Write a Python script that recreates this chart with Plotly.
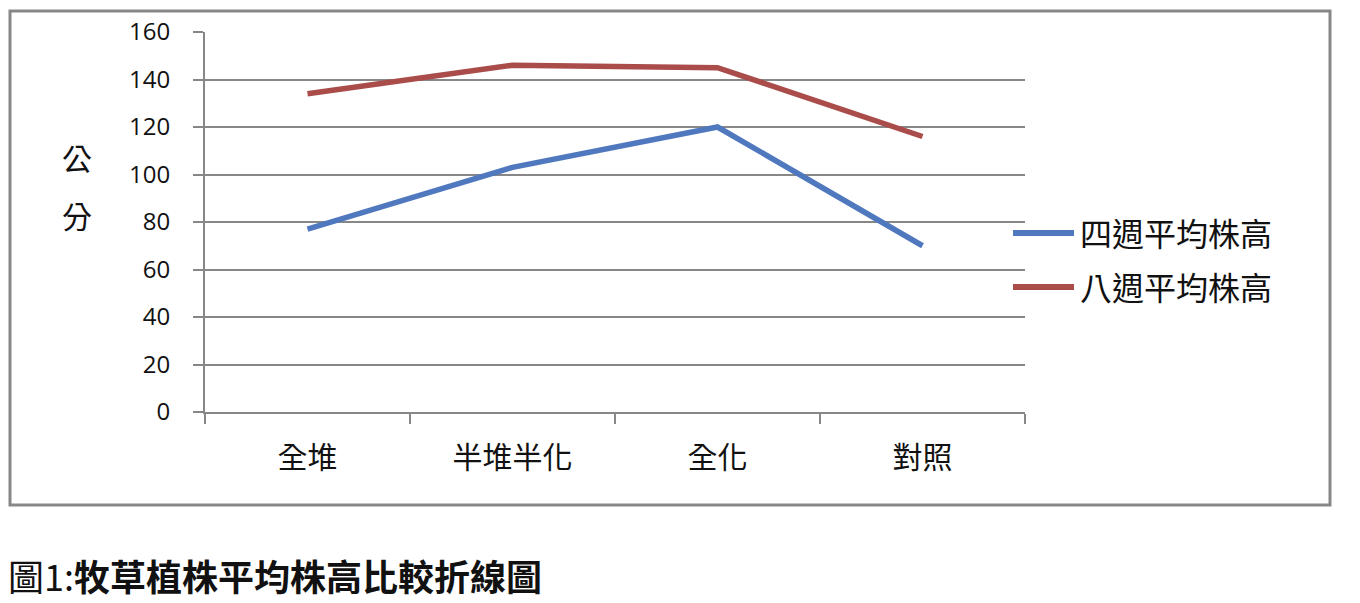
import plotly.graph_objects as go

categories = ["全堆", "半堆半化", "全化", "對照"]
week4 = [77, 103, 120, 70]
week8 = [134, 146, 145, 116]
series_names = ["四週平均株高", "八週平均株高"]
series_colors = ["#4F78BE", "#A94C4A"]
y_ticks = [0, 20, 40, 60, 80, 100, 120, 140, 160]

CJK = "Noto Sans CJK TC"
GRAY = "#878787"

fig = go.Figure()
for vals, name, col in zip([week4, week8], series_names, series_colors):
    fig.add_trace(go.Scatter(x=categories, y=vals, mode="lines", name=name,
                             line=dict(color=col, width=5.5), showlegend=False))

L, R, T, B = 205, 335, 32, 191
W, H = 1360, 603
pw, ph = W - L - R, H - T - B

def px(xp):
    return (xp - L) / pw

def py(yp):
    return (H - B - yp) / ph

fig.update_layout(
    width=W, height=H,
    margin=dict(l=L, r=R, t=T, b=B),
    paper_bgcolor="white", plot_bgcolor="white",
    showlegend=False,
    xaxis=dict(type="category", range=[-0.5, 3.5], showgrid=False,
               showline=True, linecolor=GRAY, linewidth=2,
               ticks="outside", tickson="boundaries", ticklen=10,
               tickcolor=GRAY, tickwidth=2, ticklabelstandoff=18,
               tickfont=dict(family=CJK, size=30, color="#111")),
    yaxis=dict(range=[0, 160], tickvals=y_ticks, showgrid=True,
               gridcolor=GRAY, gridwidth=2, zeroline=False,
               showline=True, linecolor=GRAY, linewidth=2,
               ticks="outside", ticklen=10, tickcolor=GRAY, tickwidth=2,
               ticklabelstandoff=18,
               tickfont=dict(family="Open Sans", size=24, color="#111")),
)

fig.add_shape(type="rect", xref="paper", yref="paper",
              x0=px(10), x1=px(1330), y0=py(505), y1=py(11),
              line=dict(color=GRAY, width=3), fillcolor="rgba(0,0,0,0)", layer="below")

# manual legend
for i, (name, col) in enumerate(zip(series_names, series_colors)):
    yy = [233, 287][i]
    fig.add_shape(type="line", xref="paper", yref="paper",
                  x0=px(1013), x1=px(1074), y0=py(yy), y1=py(yy),
                  line=dict(color=col, width=6))
    fig.add_annotation(xref="paper", yref="paper", x=px(1078), y=py(yy - 1),
                       text=name, showarrow=False, xanchor="left", yanchor="middle",
                       font=dict(family=CJK, size=32, color="#111"))

for ch, yy in zip(["公", "分"], [157, 215]):
    fig.add_annotation(xref="paper", yref="paper", x=px(77), y=py(yy),
                       text=ch, showarrow=False, xanchor="center", yanchor="middle",
                       font=dict(family=CJK, size=30, color="#111"))

fig.add_annotation(xref="paper", yref="paper", x=px(6), y=py(575),
                   text="圖1:<b>牧草植株平均株高比較折線圖</b>", showarrow=False,
                   xanchor="left", yanchor="middle",
                   font=dict(family=CJK, size=36, color="#111"))

fig.write_html("out.html", config={"displayModeBar": False},
               post_script="document.body.style.margin='0';document.body.style.overflow='hidden';")
